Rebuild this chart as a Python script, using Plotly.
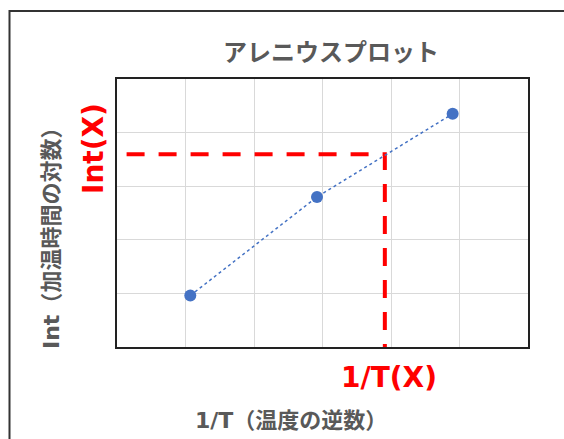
import plotly.graph_objects as go

# Data
inv_T = [1.07, 2.92, 4.90]          # 1/T (inverse temperature)
ln_time = [0.96, 2.80, 4.35]        # ln t (log of heating time)
target_x = 3.91                     # 1/T(X)
target_y = 3.595                    # ln(X)
guide_start_x = 0.14

title_text = "アレニウスプロット"
x_title_latin, x_title_cjk = "1/T", "（温度の逆数）"
y_title_latin, y_title_cjk = "Int", "（加温時間の対数）"
x_target_label = "1/T(X)"
y_target_label = "Int(X)"

W, H = 564, 439
L, R, T, B = 117, 36, 79, 92
pw, ph = W - L - R, H - T - B

def px(xp):
    return (xp - L) / pw

def py(yp):
    return (H - B - yp) / ph

FONT = "Noto Sans CJK JP, Noto Sans, sans-serif"
LATIN = "DejaVu Sans, sans-serif"
GRAY = "#595959"
RED = "#FF0000"
BLUE = "#4472C4"

def mixed(latin, cjk):
    return (f"<b><span style='font-family:{LATIN}'>{latin}</span>"
            f"{cjk}</b>")

fig = go.Figure()

fig.add_trace(go.Scatter(
    x=[guide_start_x, target_x, target_x],
    y=[target_y, target_y, 0],
    mode="lines",
    line=dict(color=RED, width=4, dash="18px,14px"),
    hoverinfo="skip",
    showlegend=False,
))

fig.add_trace(go.Scatter(
    x=inv_T, y=ln_time,
    mode="lines+markers",
    line=dict(color=BLUE, width=1.5, dash="dot"),
    marker=dict(color=BLUE, size=12),
    showlegend=False,
))

axis_common = dict(
    showticklabels=False, ticks="", showgrid=True, gridcolor="#D9D9D9",
    gridwidth=1, zeroline=False, showline=True, linecolor="#222222",
    linewidth=1.5, mirror=True, dtick=1,
)

fig.update_layout(
    width=W, height=H,
    margin=dict(l=L, r=R, t=T, b=B),
    paper_bgcolor="white", plot_bgcolor="white",
    xaxis=dict(range=[0, 6], **axis_common),
    yaxis=dict(range=[0, 5], **axis_common),
    font=dict(family=FONT, color=GRAY),
    shapes=[dict(
        type="rect", xref="paper", yref="paper",
        x0=px(9.5), x1=px(600), y0=py(11), y1=py(480),
        line=dict(color="#333333", width=2), fillcolor="rgba(0,0,0,0)",
        layer="below",
    )],
    annotations=[
        dict(text=f"<b>{title_text}</b>", x=px(331), y=py(50), xref="paper", yref="paper",
             showarrow=False, xanchor="center", yanchor="middle",
             font=dict(size=24, color=GRAY, family=FONT)),
        dict(text=mixed(x_title_latin, x_title_cjk), x=px(291), y=py(418),
             xref="paper", yref="paper",
             showarrow=False, xanchor="center", yanchor="middle",
             font=dict(size=22, color=GRAY, family=FONT)),
        dict(text=mixed(y_title_latin, y_title_cjk), x=px(49), y=py(233),
             xref="paper", yref="paper",
             showarrow=False, xanchor="center", yanchor="middle", textangle=-90,
             font=dict(size=22, color=GRAY, family=FONT)),
        dict(text=f"<b>{x_target_label}</b>", x=px(389), y=py(377), xref="paper", yref="paper",
             showarrow=False, xanchor="center", yanchor="middle",
             font=dict(size=28, color=RED, family=LATIN)),
        dict(text=f"<b>{y_target_label}</b>", x=px(93), y=py(149), xref="paper", yref="paper",
             showarrow=False, xanchor="center", yanchor="middle", textangle=-90,
             font=dict(size=28, color=RED, family=LATIN)),
    ],
)

fig.write_html("out.html")
